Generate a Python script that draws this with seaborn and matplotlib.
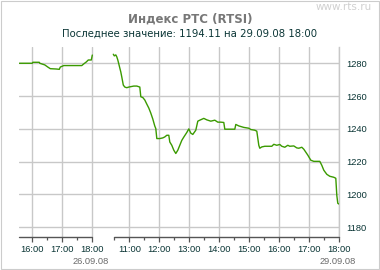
import numpy as np
import pandas as pd
import matplotlib
matplotlib.use("Agg")
import matplotlib.pyplot as plt
import seaborn as sns
from matplotlib.patches import Rectangle

# ---- data ----
day1_times = ["15:34", "16:00", "16:01", "16:14", "16:15", "16:25", "16:31", "16:36",
              "16:48", "16:54", "16:56", "17:03", "17:39", "17:42", "17:48", "17:52",
              "17:58", "18:00"]
day1_values = [1280.0, 1280.0, 1280.6, 1280.6, 1280.0, 1279.0, 1277.7, 1276.7,
               1276.5, 1276.3, 1277.7, 1278.6, 1278.6, 1279.4, 1280.8, 1282.0,
               1282.0, 1285.0]

day2_times = ["10:28", "10:30", "10:33", "10:35", "10:37", "10:39", "10:41", "10:43",
              "10:45", "10:48", "10:51", "10:55", "10:59", "11:09", "11:15", "11:21",
              "11:23", "11:27", "11:31", "11:35", "11:39", "11:43", "11:47", "11:51",
              "11:53", "11:55", "12:01", "12:07", "12:11", "12:15", "12:19", "12:21",
              "12:25", "12:29", "12:33", "12:37", "12:41", "12:45", "12:49", "12:55",
              "12:59", "13:03", "13:07", "13:13", "13:17", "13:21", "13:29", "13:35",
              "13:43", "13:51", "13:57", "14:03", "14:09", "14:11", "14:31", "14:33",
              "14:39", "14:49", "14:59", "15:03", "15:11", "15:15", "15:19", "15:21",
              "15:25", "15:31", "15:45", "15:49", "15:55", "16:01", "16:05", "16:11",
              "16:17", "16:21", "16:29", "16:35", "16:39", "16:45", "16:49", "16:53",
              "16:57", "17:03", "17:09", "17:21", "17:25", "17:29", "17:35", "17:41",
              "17:49", "17:53", "17:55", "17:57", "18:00"]
day2_values = [1285.5, 1284.5, 1285.1, 1283.9, 1282.0, 1279.6, 1277.1, 1274.7,
               1271.6, 1266.7, 1265.5, 1265.1, 1265.5, 1266.1, 1266.1, 1265.5,
               1259.6, 1259.1, 1257.6, 1255.1, 1252.7, 1249.6, 1246.0, 1241.7,
               1240.2, 1234.1, 1234.1, 1234.5, 1235.1, 1236.1, 1236.1, 1232.0,
               1230.0, 1227.0, 1225.0, 1227.0, 1230.0, 1233.0, 1235.0, 1237.8,
               1240.0, 1237.4, 1236.6, 1239.2, 1244.7, 1245.3, 1246.4, 1245.5,
               1244.7, 1245.3, 1244.1, 1244.1, 1243.9, 1239.8, 1239.8, 1242.7,
               1241.8, 1240.9, 1240.4, 1239.6, 1239.2, 1238.6, 1230.0, 1228.2,
               1229.0, 1229.4, 1229.4, 1230.6, 1230.0, 1230.5, 1229.4, 1228.8,
               1230.0, 1229.4, 1229.6, 1228.4, 1228.2, 1228.8, 1227.6, 1225.8,
               1224.0, 1220.9, 1220.2, 1220.2, 1217.8, 1214.8, 1212.3, 1211.1,
               1210.5, 1209.9, 1199.5, 1194.6, 1194.1]

day_labels = ["26.09.08", "29.09.08"]
day1_hours = [16, 17, 18]
day2_hours = [11, 12, 13, 14, 15, 16, 17, 18]
y_ticks = [1180, 1200, 1220, 1240, 1260, 1280]

title = "Индекс РТС (RTSI)"
subtitle = "Последнее значение: 1194.11 на 29.09.08 18:00"
site = "www.rts.ru"

# ---- compressed time axis: day 2 session (from 10:30) follows day 1 after a gap ----
DAY1_START, DAY1_END = 15 + 33.4 / 60, 18.0
GAP = 22 / 30
DAY2_START = 10.5
OFFSET2 = DAY1_END + GAP - DAY2_START


def hrs(t):
    h, m = t.split(":")
    return int(h) + int(m) / 60


df = pd.DataFrame({
    "pos": [hrs(t) for t in day1_times] + [hrs(t) + OFFSET2 for t in day2_times],
    "value": day1_values + day2_values,
    "day": [day_labels[0]] * len(day1_times) + [day_labels[1]] * len(day2_times),
})

sns.set_theme(style="white")
plt.rcParams["font.family"] = ["DejaVu Sans"]

W, H = 380, 270
fig = plt.figure(figsize=(W / 100, H / 100), dpi=100)
ax_l, ax_r, ax_t, ax_b = 19, 339.3, 46.7, 237.3
ax = fig.add_axes([ax_l / W, 1 - ax_b / H, (ax_r - ax_l) / W, (ax_b - ax_t) / H])

xmin, xmax = DAY1_START, 18.0 + OFFSET2
ymin, ymax = 1173.9, 1290.1
ax.set_xlim(xmin, xmax)
ax.set_ylim(ymin, ymax)

grid_c = "#c8c8c8"
axis_c = "#555555"
lab_c = "#0a3535"
tick_font = "Liberation Sans"

# grid
for v in y_ticks:
    ax.axhline(v, color=grid_c, lw=1.0, zorder=1)
vx = list(day1_hours) + [h + OFFSET2 for h in day2_hours]
for v in vx:
    ax.axvline(v, color=grid_c, lw=1.0, zorder=1)

sns.lineplot(data=df, x="pos", y="value", units="day", estimator=None, sort=False,
             color="#3a9a00", lw=1.0, ax=ax, zorder=3, legend=False)

for s in ["top", "left", "bottom"]:
    ax.spines[s].set_visible(False)
ax.spines["right"].set_color(grid_c)
ax.spines["right"].set_linewidth(1.0)

# broken bottom axis
f = lambda p: (p - xmin) / (xmax - xmin)
ax.axhline(ymin, xmin=0, xmax=f(DAY1_END), color=axis_c, lw=1.0, clip_on=False, zorder=4)
ax.axhline(ymin, xmin=f(DAY2_START + OFFSET2), xmax=1, color=axis_c, lw=1.0,
           clip_on=False, zorder=4)

# x ticks
major = list(day1_hours) + [h + OFFSET2 for h in day2_hours]
major_labels = [f"{h}:00" for h in day1_hours] + [f"{h}:00" for h in day2_hours]
minor = [16.5, 17.5] + [h + 0.5 + OFFSET2 for h in range(10, 18)]
ax.set_xticks(major)
ax.set_xticklabels(major_labels, fontfamily=tick_font)
ax.set_xticks(minor, minor=True)
ax.tick_params(axis="x", which="major", bottom=True, length=3.3, width=0.9,
               color=axis_c, labelsize=6.7, labelcolor=lab_c, pad=2.0, direction="out")
ax.tick_params(axis="x", which="minor", bottom=True, length=2.0, width=0.9,
               color=axis_c, direction="out")

# y ticks on the right
ax.yaxis.tick_right()
ax.set_yticks(y_ticks)
ax.set_yticklabels([str(v) for v in y_ticks], fontfamily=tick_font)
ax.tick_params(axis="y", length=0, labelsize=6.7, labelcolor=lab_c, pad=5)
ax.set_xlabel("")
ax.set_ylabel("")

# date labels under each session end
for p, lab in [(DAY1_END, day_labels[0]), (18.0 + OFFSET2, day_labels[1])]:
    ax.annotate(lab, xy=(p, 0), xycoords=("data", "axes fraction"),
                xytext=(-1.5, -19.3), textcoords="offset points",
                ha="center", va="baseline", fontsize=6.7, color="#6a6a6a",
                fontfamily=tick_font)

fig.text(0.5, 1 - 19.5 / H, title, ha="center", va="center", fontsize=8.5,
         fontweight="bold", color="#777777")
fig.text(0.5, 1 - 33.5 / H, subtitle, ha="center", va="center", fontsize=7.3,
         color=lab_c)
fig.text(372 / W, 1 - 7 / H, site, ha="right", va="center", fontsize=7.5,
         color="#d0d0d0")

fig.patches.append(Rectangle((0.5 / W, 1.5 / H), 378.5 / W, 267.5 / H, transform=fig.transFigure,
                             fill=False, edgecolor="#cccccc", lw=0.8))

fig.savefig("out.png", dpi=100)
